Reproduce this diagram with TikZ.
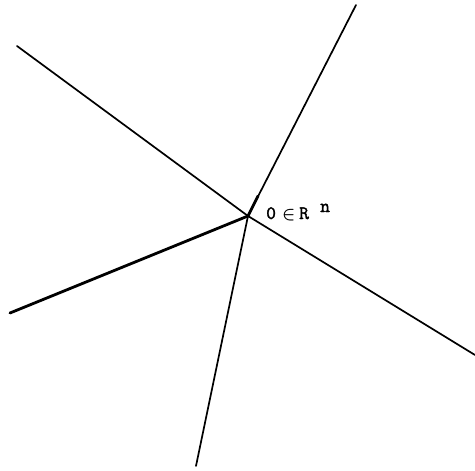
\documentclass[tikz,border=0pt]{standalone}
\usepackage{amsmath}
\usepackage{fontspec}
\newfontfamily\lblfont{Latin Modern Mono}[FakeBold=1.6]
\begin{document}
\begin{tikzpicture}[x=1pt,y=-1pt,
  ray/.style={line width=1.7pt,line cap=round},
  thickray/.style={line width=2.8pt,line cap=round},
  lbl/.style={font=\lblfont\fontsize{19}{19}\selectfont,inner sep=0pt}]
\useasboundingbox (0,0) rectangle (475,471);
\coordinate (o) at (248,216);
\coordinate (ul) at (17,46);
\coordinate (r) at (475,355);
\coordinate (t) at (356,5);
\coordinate (tk) at (258,196);
\coordinate (l) at (10,313);
\coordinate (b) at (196,466);
\draw[ray] (ul) -- (o);
\draw[ray] (o) -- (r);
\draw[ray] (o) -- (t);
\draw[thickray] (o) -- (tk);
\draw[thickray] (l) -- (o);
\draw[ray] (o) -- (b);
\node[lbl,anchor=base west] (lab) at (266,219) {\makebox[16pt][l]{0}\makebox[17pt][l]{$\boldsymbol{\in}$}\makebox[21pt][l]{R}\raisebox{7pt}{n}};
\end{tikzpicture}
\end{document}
